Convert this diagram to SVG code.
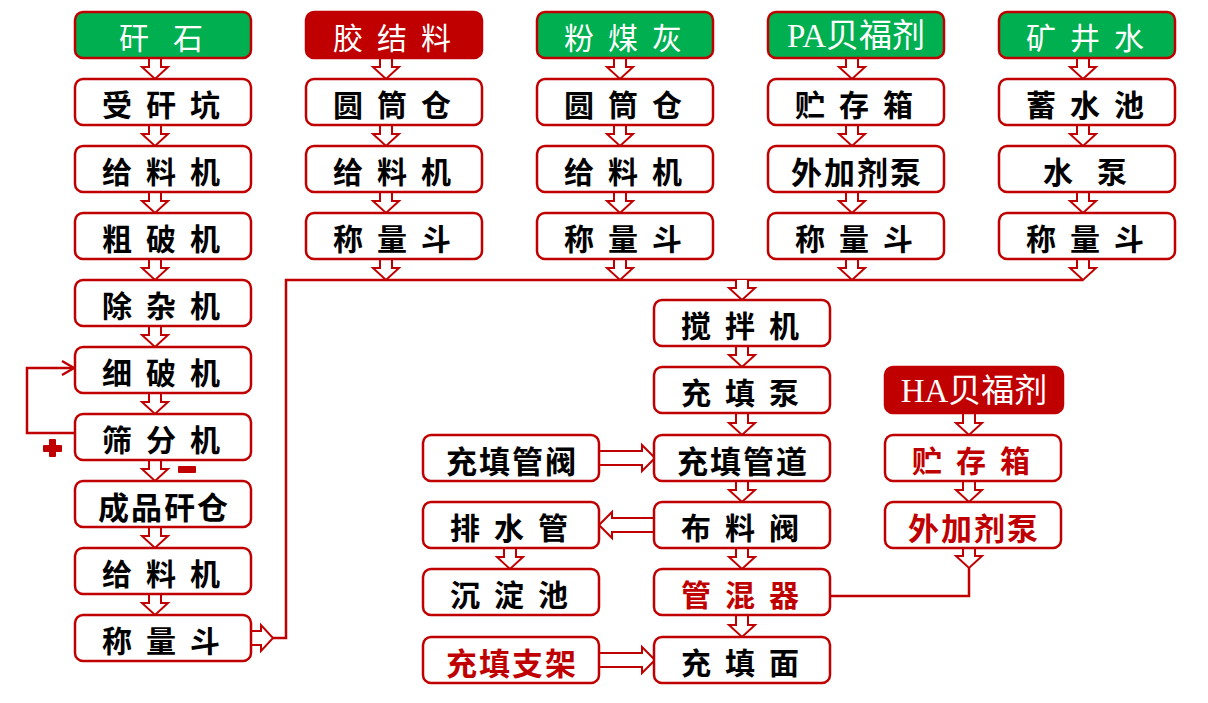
<svg xmlns="http://www.w3.org/2000/svg" width="1208" height="703" viewBox="0 0 1208 703">
<style>
.bx{fill:#fff;stroke:#c00000;stroke-width:2.5}
.bg{fill:#00b050;stroke:#c00000;stroke-width:2.5}
.br{fill:#c00000;stroke:#c00000;stroke-width:2.5}
.t{font-family:"Noto Sans CJK SC",sans-serif;font-size:30px;font-weight:700;fill:#000;text-anchor:middle;dominant-baseline:central}
.t4{font-size:31px;letter-spacing:2px}
.h{fill:#fff;font-weight:400}
.lat{font-family:"Liberation Serif","Noto Sans CJK SC",serif;font-size:33px;font-weight:400;fill:#fff;text-anchor:middle;dominant-baseline:central}
.rt{fill:#c00000}
.ar{fill:#fff;stroke:#c00000;stroke-width:2}
.ln{fill:none;stroke:#c00000;stroke-width:2.5}
.mk{fill:#c00000}
</style>
<g id="connectors">
<path class="ln" d="M273 638 H286 V280 H1083"/>
<path class="ln" d="M75 433 H27 V368 H73"/>
<path class="ln" d="M62 361 L74 368 L62 375"/>
<path class="ln" d="M969 568 V596 H830"/>
<!-- col1 -->
<path class="ar" d="M149 58 V67 H142 L155 79 L168 67 H161 V58"/>
<path class="ar" d="M149 125 V134 H142 L155 146 L168 134 H161 V125"/>
<path class="ar" d="M149 192 V201 H142 L155 213 L168 201 H161 V192"/>
<path class="ar" d="M149 259 V268 H142 L155 280 L168 268 H161 V259"/>
<path class="ar" d="M149 326 V335 H142 L155 347 L168 335 H161 V326"/>
<path class="ar" d="M149 393 V402 H142 L155 414 L168 402 H161 V393"/>
<path class="ar" d="M149 460 V469 H142 L155 481 L168 469 H161 V460"/>
<path class="ar" d="M149 527 V536 H142 L155 548 L168 536 H161 V527"/>
<path class="ar" d="M149 594 V603 H142 L155 615 L168 603 H161 V594"/>
<!-- col2 -->
<path class="ar" d="M380 58 V67 H373 L386 79 L399 67 H392 V58"/>
<path class="ar" d="M380 125 V134 H373 L386 146 L399 134 H392 V125"/>
<path class="ar" d="M380 192 V201 H373 L386 213 L399 201 H392 V192"/>
<path class="ar" d="M380 259 V268 H373 L386 280 L399 268 H392 V259"/>
<!-- col3 -->
<path class="ar" d="M614 58 V67 H607 L620 79 L633 67 H626 V58"/>
<path class="ar" d="M614 125 V134 H607 L620 146 L633 134 H626 V125"/>
<path class="ar" d="M614 192 V201 H607 L620 213 L633 201 H626 V192"/>
<path class="ar" d="M614 259 V268 H607 L620 280 L633 268 H626 V259"/>
<!-- col4 -->
<path class="ar" d="M846 58 V67 H839 L852 79 L865 67 H858 V58"/>
<path class="ar" d="M846 125 V134 H839 L852 146 L865 134 H858 V125"/>
<path class="ar" d="M846 192 V201 H839 L852 213 L865 201 H858 V192"/>
<path class="ar" d="M846 259 V268 H839 L852 280 L865 268 H858 V259"/>
<!-- col5 -->
<path class="ar" d="M1077 58 V67 H1070 L1083 79 L1096 67 H1089 V58"/>
<path class="ar" d="M1077 125 V134 H1070 L1083 146 L1096 134 H1089 V125"/>
<path class="ar" d="M1077 192 V201 H1070 L1083 213 L1096 201 H1089 V192"/>
<path class="ar" d="M1077 259 V268 H1070 L1083 280 L1096 268 H1089 V259"/>
<!-- middle -->
<path class="ar" d="M736 280 V288 H729 L742 300 L755 288 H748 V280"/>
<path class="ar" d="M736 346 V355 H729 L742 367 L755 355 H748 V346"/>
<path class="ar" d="M736 413 V423 H729 L742 435 L755 423 H748 V413"/>
<path class="ar" d="M736 481 V490 H729 L742 502 L755 490 H748 V481"/>
<path class="ar" d="M736 548 V557 H729 L742 569 L755 557 H748 V548"/>
<path class="ar" d="M736 615 V625 H729 L742 637 L755 625 H748 V615"/>
<!-- HA -->
<path class="ar" d="M963 413 V423 H956 L969 435 L982 423 H975 V413"/>
<path class="ar" d="M963 481 V490 H956 L969 502 L982 490 H975 V481"/>
<path class="ar" d="M963 548 V556 H956 L969 568 L982 556 H975 V548"/>
<!-- left-mid -->
<path class="ar" d="M504 548 V557 H497 L510 569 L523 557 H516 V548"/>
<!-- horizontal -->
<path class="ar" d="M599 451 H642 V445 L655 458 L642 471 V465 H599"/>
<path class="ar" d="M599 653 H642 V647 L655 660 L642 673 V667 H599"/>
<path class="ar" d="M251 631 H261 V625 L273 638 L261 651 V645 H251"/>
<path class="ar" d="M654 518 H612 V512 L599 525 L612 538 V532 H654"/>
</g>
<g id="marks">
<rect class="mk" x="49" y="439" width="7" height="18" rx="1"/>
<rect class="mk" x="43" y="445" width="19" height="7" rx="1"/>
<rect class="mk" x="178" y="466" width="18" height="7" rx="1"/>
</g>
<g id="n-ganshi"><rect class="bg" x="75" y="12" width="176" height="46" rx="8"/><text class="t h" x="134 161 188" y="36">矸 石</text></g>
<g id="n-shouganken"><rect class="bx" x="75" y="79" width="176" height="46" rx="8"/><text class="t" x="117 139 161 183 205" y="103">受 矸 坑</text></g>
<g id="n-geiliaoji1"><rect class="bx" x="75" y="146" width="176" height="46" rx="8"/><text class="t" x="117 139 161 183 205" y="170">给 料 机</text></g>
<g id="n-cupoji"><rect class="bx" x="75" y="213" width="176" height="46" rx="8"/><text class="t" x="117 139 161 183 205" y="237">粗 破 机</text></g>
<g id="n-chuzaji"><rect class="bx" x="75" y="280" width="176" height="46" rx="8"/><text class="t" x="117 139 161 183 205" y="304">除 杂 机</text></g>
<g id="n-xipoji"><rect class="bx" x="75" y="347" width="176" height="46" rx="8"/><text class="t" x="117 139 161 183 205" y="371">细 破 机</text></g>
<g id="n-shaifenji"><rect class="bx" x="75" y="414" width="176" height="46" rx="8"/><text class="t" x="117 139 161 183 205" y="438">筛 分 机</text></g>
<g id="n-chengpin"><rect class="bx" x="75" y="481" width="176" height="46" rx="8"/><text class="t t4" x="164" y="505">成品矸仓</text></g>
<g id="n-geiliaoji2"><rect class="bx" x="75" y="548" width="176" height="46" rx="8"/><text class="t" x="117 139 161 183 205" y="572">给 料 机</text></g>
<g id="n-chengliangdou1"><rect class="bx" x="75" y="615" width="176" height="46" rx="8"/><text class="t" x="117 139 161 183 205" y="639">称 量 斗</text></g>

<g id="n-jiaojieliao"><rect class="br" x="306" y="12" width="176" height="46" rx="8"/><text class="t h" x="348 370 392 414 436" y="36">胶 结 料</text></g>
<g id="n-yuantongcang1"><rect class="bx" x="306" y="79" width="176" height="46" rx="8"/><text class="t" x="348 370 392 414 436" y="103">圆 筒 仓</text></g>
<g id="n-geiliaoji3"><rect class="bx" x="306" y="146" width="176" height="46" rx="8"/><text class="t" x="348 370 392 414 436" y="170">给 料 机</text></g>
<g id="n-chengliangdou2"><rect class="bx" x="306" y="213" width="176" height="46" rx="8"/><text class="t" x="348 370 392 414 436" y="237">称 量 斗</text></g>

<g id="n-fenmeihui"><rect class="bg" x="537" y="12" width="176" height="46" rx="8"/><text class="t h" x="579 601 623 645 667" y="36">粉 煤 灰</text></g>
<g id="n-yuantongcang2"><rect class="bx" x="537" y="79" width="176" height="46" rx="8"/><text class="t" x="579 601 623 645 667" y="103">圆 筒 仓</text></g>
<g id="n-geiliaoji4"><rect class="bx" x="537" y="146" width="176" height="46" rx="8"/><text class="t" x="579 601 623 645 667" y="170">给 料 机</text></g>
<g id="n-chengliangdou3"><rect class="bx" x="537" y="213" width="176" height="46" rx="8"/><text class="t" x="579 601 623 645 667" y="237">称 量 斗</text></g>

<g id="n-pa"><rect class="bg" x="768" y="12" width="176" height="46" rx="8"/><text class="lat" x="856" y="36">PA贝福剂</text></g>
<g id="n-zhucunxiang1"><rect class="bx" x="768" y="79" width="176" height="46" rx="8"/><text class="t" x="810 832 854 876 898" y="103">贮 存 箱</text></g>
<g id="n-waijiajibeng1"><rect class="bx" x="768" y="146" width="176" height="46" rx="8"/><text class="t t4" x="857" y="170">外加剂泵</text></g>
<g id="n-chengliangdou4"><rect class="bx" x="768" y="213" width="176" height="46" rx="8"/><text class="t" x="810 832 854 876 898" y="237">称 量 斗</text></g>

<g id="n-kuangjingshui"><rect class="bg" x="999" y="12" width="176" height="46" rx="8"/><text class="t h" x="1041 1063 1085 1107 1129" y="36">矿 井 水</text></g>
<g id="n-xushuichi"><rect class="bx" x="999" y="79" width="176" height="46" rx="8"/><text class="t" x="1041 1063 1085 1107 1129" y="103">蓄 水 池</text></g>
<g id="n-shuibeng"><rect class="bx" x="999" y="146" width="176" height="46" rx="8"/><text class="t" x="1058 1085 1112" y="170">水 泵</text></g>
<g id="n-chengliangdou5"><rect class="bx" x="999" y="213" width="176" height="46" rx="8"/><text class="t" x="1041 1063 1085 1107 1129" y="237">称 量 斗</text></g>

<g id="n-jiaobanji"><rect class="bx" x="654" y="300" width="176" height="46" rx="8"/><text class="t" x="696 718 740 762 784" y="324">搅 拌 机</text></g>
<g id="n-chongtianbeng"><rect class="bx" x="654" y="367" width="176" height="46" rx="8"/><text class="t" x="696 718 740 762 784" y="391">充 填 泵</text></g>
<g id="n-chongtianguandao"><rect class="bx" x="654" y="435" width="176" height="46" rx="8"/><text class="t t4" x="743" y="459">充填管道</text></g>
<g id="n-buliaofa"><rect class="bx" x="654" y="502" width="176" height="46" rx="8"/><text class="t" x="696 718 740 762 784" y="526">布 料 阀</text></g>
<g id="n-guanhunqi"><rect class="bx" x="654" y="569" width="176" height="46" rx="8"/><text class="t rt" x="696 718 740 762 784" y="593">管 混 器</text></g>
<g id="n-chongtianmian"><rect class="bx" x="654" y="637" width="176" height="46" rx="8"/><text class="t" x="696 718 740 762 784" y="661">充 填 面</text></g>

<g id="n-chongtianguanfa"><rect class="bx" x="423" y="435" width="176" height="46" rx="8"/><text class="t t4" x="512" y="459">充填管阀</text></g>
<g id="n-paishuiguan"><rect class="bx" x="423" y="502" width="176" height="46" rx="8"/><text class="t" x="465 487 509 531 553" y="526">排 水 管</text></g>
<g id="n-chendianchi"><rect class="bx" x="423" y="569" width="176" height="46" rx="8"/><text class="t" x="465 487 509 531 553" y="593">沉 淀 池</text></g>
<g id="n-chongtianzhijia"><rect class="bx" x="423" y="637" width="176" height="46" rx="8"/><text class="t t4 rt" x="512" y="661">充填支架</text></g>

<g id="n-ha"><rect class="br" x="885" y="367" width="178" height="46" rx="8"/><text class="lat" x="974" y="391">HA贝福剂</text></g>
<g id="n-zhucunxiang2"><rect class="bx" x="885" y="435" width="176" height="46" rx="8"/><text class="t rt" x="927 949 971 993 1015" y="459">贮 存 箱</text></g>
<g id="n-waijiajibeng2"><rect class="bx" x="885" y="502" width="176" height="46" rx="8"/><text class="t t4 rt" x="974" y="526">外加剂泵</text></g>
</svg>
